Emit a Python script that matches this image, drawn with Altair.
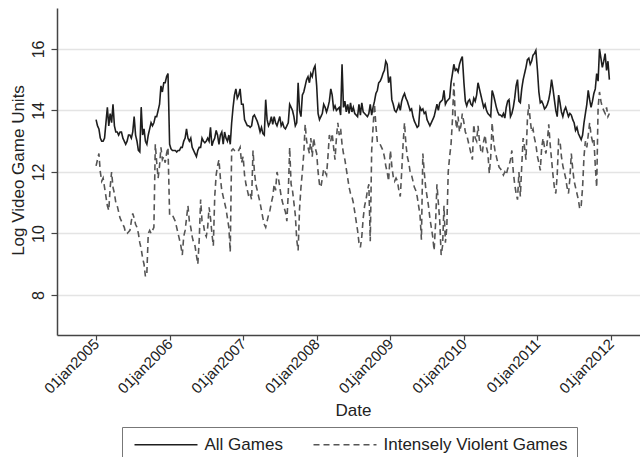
import altair as alt
import pandas as pd

# Weekly log unit sales, one list of 52 weeks per calendar year
all_games = {
    2005: [13.7, 13.5, 13.4, 13.1, 13.0, 13.0, 13.1, 13.6, 14.1, 13.5, 13.9, 13.6, 14.2,
           13.5, 13.3, 13.3, 13.2, 13.3, 13.3, 13.1, 13.0, 12.9, 13.0, 13.2, 13.2, 13.1,
           13.3, 13.8, 13.2, 13.0, 12.7, 12.65, 14.1, 13.2, 13.4, 13.0, 12.9, 13.2, 13.4,
           13.6, 13.5, 13.6, 13.8, 13.8, 14.0, 14.2, 14.8, 14.6, 14.9, 14.9, 15.1, 15.2],
    2006: [12.9, 12.75, 12.7, 12.7, 12.7, 12.65, 12.7, 12.7, 12.8, 12.8, 13.0, 13.1, 13.4,
           13.1, 13.0, 13.1, 12.8, 12.7, 12.6, 12.5, 12.7, 12.8, 12.8, 13.1, 13.0, 12.95,
           13.0, 13.1, 13.0, 13.45, 12.85, 13.0, 13.1, 13.35, 13.2, 12.9, 13.2, 13.3, 12.9,
           13.3, 13.1, 13.0, 13.2, 12.9, 13.6, 14.1, 14.5, 14.7, 14.4, 14.5, 14.7, 14.2],
    2007: [14.2, 13.7, 13.6, 13.5, 13.5, 13.45, 13.5, 13.8, 13.85, 13.75, 13.65, 13.5, 13.3,
           13.45, 13.25, 13.2, 14.35, 13.7, 13.5, 13.6, 13.8, 13.55, 13.8, 13.6, 13.5, 13.65,
           13.8, 13.5, 13.6, 13.45, 13.4, 13.5, 13.6, 14.2, 14.1, 14.0, 13.8, 13.5, 13.6,
           14.9, 14.0, 13.8, 14.5, 14.6, 14.8, 15.0, 15.1, 14.9, 15.2, 15.1, 15.35, 15.45],
    2008: [14.8, 13.9, 13.7, 13.8, 13.9, 14.2, 14.1, 13.95, 14.1, 14.3, 14.7, 14.5, 14.05,
           14.15, 14.0, 14.05, 14.1, 13.85, 15.5, 14.1, 14.3, 13.95, 14.2, 13.9, 14.25, 13.95,
           14.1, 13.9, 13.85, 13.8, 14.2, 13.85, 14.25, 13.95, 13.9, 13.85, 13.8, 13.9, 14.2,
           13.85, 14.1, 14.3, 14.55, 14.65, 14.9, 14.95, 15.05, 15.2, 15.3, 15.6, 15.5, 14.9],
    2009: [15.1, 14.35, 14.2, 14.0, 13.95, 14.05, 14.2, 14.0, 14.3, 14.45, 14.55, 14.4, 14.3,
           14.15, 14.0, 14.05, 13.8, 13.65, 13.55, 13.45, 13.5, 14.1, 14.0, 14.05, 13.9, 13.95,
           13.7, 13.6, 13.5, 13.6, 13.7, 13.8, 14.0, 14.2, 14.0, 14.25, 14.3, 14.35, 14.65,
           14.2, 14.3, 14.35, 14.4, 14.9, 15.2, 15.5, 15.3, 15.35, 15.25, 15.5, 15.65, 15.75],
    2010: [14.9, 14.3, 14.15, 14.3, 14.35, 14.2, 14.15, 14.4, 14.3, 14.5, 14.9, 14.7, 14.5,
           14.3, 14.1, 14.2, 14.0, 13.9, 13.85, 13.8, 14.65, 14.5, 14.3, 14.1, 13.95, 13.85,
           13.85, 13.8, 13.9, 13.75, 14.1, 14.3, 14.35, 13.8, 13.9, 14.1, 14.4, 14.8, 15.0,
           14.3, 14.25, 14.7, 15.0, 15.2, 15.4, 15.65, 15.7, 15.5, 15.6, 15.8, 15.85, 15.95],
    2011: [15.3, 14.6, 14.25, 14.3, 14.2, 14.05, 14.1, 14.2, 14.35, 14.6, 15.0, 14.7, 14.35,
           14.0, 13.8, 14.5, 14.25, 13.95, 13.8, 14.0, 14.1, 13.95, 13.8, 13.9, 13.85, 13.7,
           13.6, 13.35, 13.45, 13.25, 13.15, 13.05, 13.2, 13.6, 13.9, 14.2, 14.65, 14.35, 14.1,
           14.3, 14.55, 14.7, 15.2, 14.95, 16.0, 15.7, 15.4, 15.6, 15.85, 15.3, 15.6, 15.0],
}

violent_games = {
    2005: [12.2, 12.4, 12.6, 12.0, 11.7, 11.8, 11.5, 11.2, 10.9, 10.75, 11.5, 12.0, 11.5,
           11.3, 11.0, 10.9, 10.7, 10.5, 10.4, 10.3, 10.2, 10.0, 10.0, 10.05, 10.1, 10.4,
           10.65, 10.5, 10.3, 10.2, 10.0, 9.7, 9.5, 9.2, 9.0, 8.6, 8.7, 10.0, 10.1,
           10.0, 10.1, 10.2, 12.9, 12.3, 11.8, 12.2, 12.8, 12.4, 12.5, 12.3, 12.6, 12.8],
    2006: [10.6, 10.6, 10.6, 10.5, 10.4, 10.2, 10.0, 9.8, 9.6, 9.3, 9.9, 10.1, 10.5,
           10.9, 10.4, 10.2, 9.9, 9.7, 9.6, 9.3, 9.0, 9.8, 11.1, 10.4, 10.3, 10.0,
           9.9, 10.2, 10.85, 10.5, 10.0, 9.6, 11.2, 11.9, 12.2, 12.4, 11.8, 11.4, 11.2,
           11.0, 10.8, 10.5, 10.2, 9.4, 12.7, 12.75, 12.7, 12.75, 12.7, 12.7, 12.8, 12.3],
    2007: [12.5, 11.9, 11.6, 11.4, 11.2, 11.3, 11.1, 12.7, 12.0, 11.6, 11.4, 11.2, 11.0,
           10.75, 10.5, 10.3, 10.2, 10.4, 10.6, 10.75, 11.0, 11.2, 11.6, 11.4, 12.0, 11.8,
           11.5, 11.2, 11.0, 10.85, 10.7, 10.4, 11.3, 12.8, 11.6, 11.4, 11.0, 10.6, 9.8,
           9.45, 10.8, 11.5, 12.0, 12.6, 13.55, 13.0, 12.8, 12.6, 13.1, 12.5, 13.1, 12.8],
    2008: [12.6, 12.0, 11.6, 11.5, 11.8, 12.1, 12.0, 11.9, 12.5, 13.2, 13.0, 13.25, 12.8,
           12.4, 13.1, 13.6, 13.2, 13.4, 12.9, 12.6, 12.4, 12.1, 11.8, 11.5, 11.3, 11.2,
           11.0, 10.7, 10.4, 10.1, 9.7, 9.55, 9.9, 10.5, 10.9, 11.1, 11.4, 11.6, 9.75,
           12.7, 13.45, 14.2, 13.5, 13.0, 13.0, 12.9, 12.8, 12.7, 12.5, 12.2, 12.0, 11.7],
    2009: [12.7, 12.2, 11.85, 11.7, 11.8, 11.7, 11.4, 11.2, 12.0, 12.9, 13.6, 12.9, 12.5,
           12.3, 12.0, 11.9, 11.7, 11.5, 11.4, 11.2, 10.9, 10.6, 9.8, 12.6, 12.0, 11.5,
           11.2, 10.9, 10.5, 10.2, 9.9, 9.45, 10.3, 11.6, 11.0, 10.4, 9.3, 9.6, 10.9,
           9.7, 10.2, 12.0, 12.5, 12.9, 13.7, 14.9, 13.8, 13.4, 13.8, 13.3, 13.5, 13.9],
    2010: [13.6, 13.3, 13.2, 13.0, 12.8, 12.6, 12.4, 13.55, 13.1, 13.0, 13.5, 13.0, 12.7,
           12.6, 13.0, 13.2, 12.8, 12.6, 11.95, 12.5, 13.6, 13.0, 12.7, 12.5, 12.3, 12.15,
           12.1, 12.0, 11.9, 12.0, 11.9, 12.1, 12.2, 12.4, 12.7, 12.0, 11.6, 11.3, 11.1,
           12.0, 11.2, 12.2, 13.1, 12.8, 12.4, 13.7, 14.2, 13.7, 13.3, 13.4, 13.1, 12.9],
    2011: [12.5, 12.3, 12.05, 12.8, 13.1, 12.8, 12.6, 13.0, 13.55, 12.9, 12.4, 11.9, 11.5,
           11.3, 11.9, 13.05, 13.0, 12.5, 12.2, 12.0, 11.8, 11.5, 11.3, 11.8, 12.6, 12.1,
           11.7, 11.5, 11.3, 11.1, 10.8, 10.9, 11.5, 12.5, 13.0, 12.8, 13.2, 13.6, 13.2,
           13.0, 13.1, 12.2, 11.5, 14.1, 14.6, 14.3, 14.1, 14.0, 13.9, 14.1, 13.8, 13.9],
}

series_names = ["All Games", "Intensely Violent Games"]
tick_years = list(range(2005, 2013))

rows = []
for name, table in zip(series_names, [all_games, violent_games]):
    for year, values in table.items():
        start = pd.Timestamp(year, 1, 1)
        for week, v in enumerate(values):
            rows.append({
                "date": (start + pd.Timedelta(days=7 * week)).strftime("%Y-%m-%dT00:00:00"),
                "units": v,
                "series": name,
            })
df = pd.DataFrame(rows)

font = "Liberation Sans"

x_axis = alt.Axis(
    values=[alt.DateTime(year=y, month=1, date=1) for y in tick_years],
    labelExpr="lower(timeFormat(datum.value, '%d%b%Y'))",
    labelAngle=315,
    labelAlign="right",
    labelBaseline="middle",
    labelFontSize=15,
    labelPadding=1,
    labelColor="#222",
    tickSize=5,
    tickColor="#444",
    tickWidth=1.2,
    domainColor="#444",
    domainWidth=1.5,
    grid=False,
    title="Date",
    titleFontSize=17,
    titleFontWeight="normal",
    titleColor="#222",
    titleX=296,
    titleY=75,
    titleBaseline="middle",
    titleAlign="center",
)

y_axis = alt.Axis(
    values=[8, 10, 12, 14, 16],
    labelAngle=270,
    labelAlign="center",
    labelBaseline="bottom",
    labelFontSize=16,
    labelPadding=5,
    labelColor="#222",
    tickSize=6,
    tickColor="#444",
    tickWidth=1.2,
    domainColor="#444",
    domainWidth=1.5,
    grid=True,
    gridColor="#e4e4e4",
    gridWidth=1.5,
    title="Log Video Game Units",
    titleFontSize=17,
    titleFontWeight="normal",
    titleColor="#222",
    titleAngle=270,
    titleX=-39,
    titleY=162,
    titleAlign="center",
    titleBaseline="middle",
)

# Legend keys: a horizontal stroke 63 px long drawn from a unit path
legend = alt.Legend(
    title=None,
    orient="none",
    legendX=65,
    legendY=419,
    direction="horizontal",
    columns=2,
    symbolType="M-6.3,0H6.3",
    symbolSize=100,
    symbolOffset=26.5,
    symbolStrokeWidth=1.6,
    labelFontSize=17,
    labelFont=font,
    labelColor="#222",
    labelOffset=30,
    labelLimit=400,
    columnPadding=27,
    padding=9,
    strokeColor="#777",
    fillColor="white",
)

chart = (
    alt.Chart(df)
    .mark_line(strokeWidth=1.6, interpolate="linear")
    .encode(
        x=alt.X(
            "date:T",
            scale=alt.Scale(
                domain=[alt.DateTime(year=2004, month=6, date=21),
                        alt.DateTime(year=2012, month=5, date=24)],
                nice=False,
            ),
            axis=x_axis,
        ),
        y=alt.Y(
            "units:Q",
            scale=alt.Scale(domain=[6.7, 17.33], zero=False, nice=False),
            axis=y_axis,
        ),
        color=alt.Color(
            "series:N",
            scale=alt.Scale(domain=series_names, range=["#1e1e1e", "#555555"]),
            legend=legend,
        ),
        strokeDash=alt.StrokeDash(
            "series:N",
            scale=alt.Scale(domain=series_names, range=[[1, 0], [6, 4]]),
            legend=legend,
        ),
        detail="series:N",
    )
    .properties(
        width=583,
        height=327,
        autosize=alt.AutoSizeParams(type="none"),
        padding={"left": 57, "top": 8, "right": 0, "bottom": 122},
    )
    .configure(font=font)
    .configure_view(stroke=None)
    .configure_axis(labelFont=font, titleFont=font)
)

chart.save("out.html", embed_options={"renderer": "svg", "actions": False})
